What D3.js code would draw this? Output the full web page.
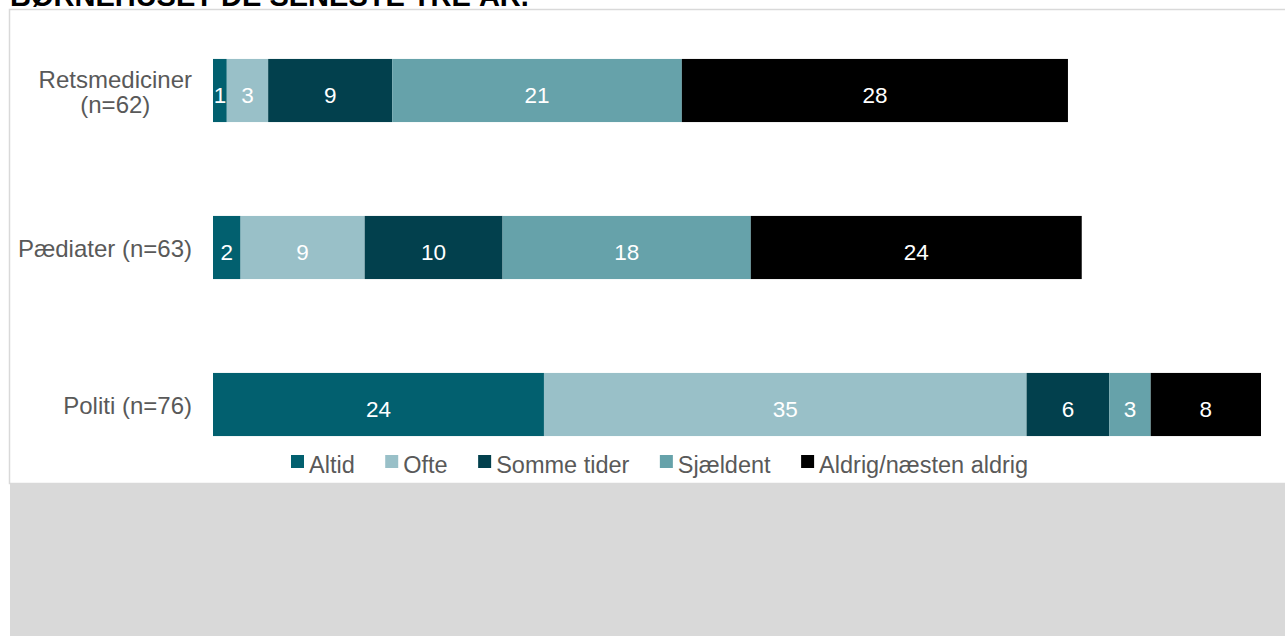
<!DOCTYPE html>
<html><head><meta charset="utf-8">
<script src="https://cdn.jsdelivr.net/npm/d3@7"></script>
<style>html,body{margin:0;padding:0;background:#fff;}svg{display:block;}</style>
</head><body>
<svg id="c" width="1285" height="636"></svg>
<script>
const categories = [["Retsmediciner","(n=62)"],["Pædiater (n=63)"],["Politi (n=76)"]];
const seriesNames = ["Altid","Ofte","Somme tider","Sjældent","Aldrig/næsten aldrig"];
const seriesColors = ["#02606f","#99c0c8","#02404d","#66a2aa","#000000"];
const altid = [1,2,24];
const ofte = [3,9,35];
const sommeTider = [9,10,6];
const sjaeldent = [21,18,3];
const aldrig = [28,24,8];
const titleText = "BØRNEHUSET DE SENESTE TRE ÅR.";

const values = [altid, ofte, sommeTider, sjaeldent, aldrig];
const svg = d3.select("#c");
const font = "Liberation Sans, Arial, sans-serif";

svg.append("rect").attr("x",0).attr("y",0).attr("width",1285).attr("height",636).attr("fill","#fff");
svg.append("rect").attr("x",10).attr("y",483).attr("width",1275).attr("height",153).attr("fill","#d9d9d9");
svg.append("rect").attr("x",9.5).attr("y",9.5).attr("width",1280).attr("height",474).attr("fill","#fff").attr("stroke","#d9d9d9").attr("stroke-width",1.5);

svg.append("text").attr("x",10).attr("y",6).attr("font-family",font).attr("font-weight","bold")
  .attr("font-size",29).attr("fill","#000").text(titleText);

const x = d3.scaleLinear().domain([0,76]).range([213,1261]);
const y = d3.scaleBand().domain(d3.range(categories.length)).range([12,483]).paddingInner(0.598).paddingOuter(0.299);

const stackData = categories.map((c,i)=>{
  const o = {i};
  seriesNames.forEach((s,k)=>o[s]=values[k][i]);
  return o;
});
const stacked = d3.stack().keys(seriesNames)(stackData);

const g = svg.append("g");
stacked.forEach((layer,k)=>{
  const sel = g.selectAll(null).data(layer).enter();
  sel.append("rect")
    .attr("x",d=>x(d[0])).attr("width",d=>x(d[1])-x(d[0]))
    .attr("y",(d,i)=>y(i)).attr("height",y.bandwidth())
    .attr("fill",seriesColors[k]);
  sel.append("text")
    .attr("x",d=>(x(d[0])+x(d[1]))/2).attr("y",(d,i)=>y(i)+y.bandwidth()/2+12.5)
    .attr("text-anchor","middle").attr("font-family",font).attr("font-size",22.5)
    .attr("fill","#fff").text(d=>d[1]-d[0]);
});

categories.forEach((lines,i)=>{
  const cy = y(i)+y.bandwidth()/2;
  const t = svg.append("text").attr("font-family",font).attr("font-size",24).attr("fill","#595959");
  const n = lines.length;
  const lh = 25;
  const tmp = svg.append("text").attr("font-family",font).attr("font-size",24);
  let maxW = 0;
  lines.forEach(l=>{tmp.text(l); maxW=Math.max(maxW,tmp.node().getComputedTextLength());});
  tmp.remove();
  const right = 192;
  lines.forEach((l,j)=>{
    t.append("tspan").attr("x",right-maxW/2).attr("text-anchor","middle")
      .attr("y",cy+9.5+(j-(n-1)/2)*lh).text(l);
  });
});

const lg = svg.append("g");
let lx = 291;
seriesNames.forEach((s,k)=>{
  lg.append("rect").attr("x",lx).attr("y",455).attr("width",13).attr("height",13).attr("fill",seriesColors[k]);
  const t = lg.append("text").attr("x",lx+18).attr("y",473).attr("font-family",font).attr("font-size",23.5)
    .attr("fill","#595959").text(s);
  lx = lx+18+t.node().getComputedTextLength()+30.5;
});
</script>
</body></html>
